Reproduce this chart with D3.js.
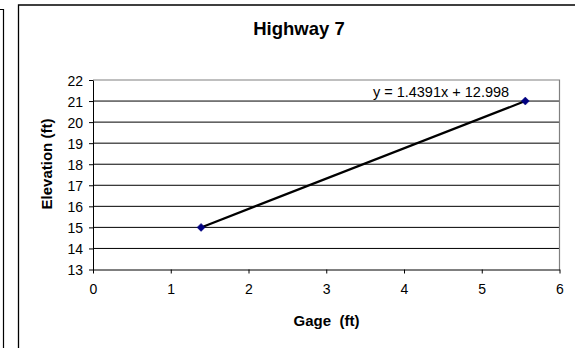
<!DOCTYPE html>
<html><head><meta charset="utf-8">
<script src="https://cdn.jsdelivr.net/npm/d3@7"></script>
<style>
html,body{margin:0;padding:0;background:#fff;}
svg{display:block;font-family:Arial,"Liberation Sans",sans-serif;}
.tick text{font-size:14px;font-family:Arial,"Liberation Sans",sans-serif;fill:#000;}
</style></head>
<body>
<svg id="c" width="575" height="348"></svg>
<script>
const gage = [1.39, 5.56];
const elevation = [15, 21];
const xTicks = [0, 1, 2, 3, 4, 5, 6];
const yTicks = [13, 14, 15, 16, 17, 18, 19, 20, 21, 22];
const slope = 1.4391, intercept = 12.998;
const title = "Highway 7";
const xLabel = "Gage  (ft)";
const yLabel = "Elevation (ft)";
const eqLabel = "y = 1.4391x + 12.998";

const svg = d3.select("#c");
const L = 93, R = 559.5, T = 80, B = 269.5;
const x = d3.scaleLinear().domain([0, 6]).range([L, R]);
const y = d3.scaleLinear().domain([13, 22]).range([B, T]);

// neighbouring chart frame fragment
svg.append("path").attr("d", "M0,9.5 H3.5 V348").attr("fill", "none").attr("stroke", "#000").attr("stroke-width", 1.2);
// chart frame
svg.append("path").attr("d", "M18.5,348 V5 H575").attr("fill", "none").attr("stroke", "#000").attr("stroke-width", 1.3);

// gridlines
svg.append("g").selectAll("line").data(yTicks.filter(d => d !== 13 && d !== 22)).join("line")
  .attr("x1", L).attr("x2", R).attr("y1", d => y(d)).attr("y2", d => y(d))
  .attr("stroke", "#000").attr("stroke-width", 1);
// plot area border (top and right)
svg.append("path").attr("d", `M${L},${T} H${R} V${B}`).attr("fill", "none").attr("stroke", "#808080").attr("stroke-width", 1.2);

// axes
const yAxis = d3.axisLeft(y).tickValues(yTicks).tickFormat(d3.format("d")).tickSize(4).tickSizeOuter(0).tickPadding(6);
const gy = svg.append("g").attr("transform", `translate(${L},0)`).call(yAxis);
const xAxis = d3.axisBottom(x).tickValues(xTicks).tickFormat(d3.format("d")).tickSize(4).tickSizeOuter(0).tickPadding(11);
const gx = svg.append("g").attr("transform", `translate(0,${B})`).call(xAxis);
[gx, gy].forEach(g => {
  g.attr("font-size", null).attr("font-family", null);
  g.select(".domain").attr("stroke", "#000");
  g.selectAll(".tick line").attr("stroke", "#000");
});
gy.selectAll(".tick text").attr("dy", "0.36em");

// trendline
const xs = d3.extent(gage);
svg.append("line")
  .attr("x1", x(xs[0])).attr("y1", y(slope * xs[0] + intercept))
  .attr("x2", x(xs[1])).attr("y2", y(slope * xs[1] + intercept))
  .attr("stroke", "#000").attr("stroke-width", 2.2);

// markers
svg.append("g").selectAll("path").data(gage.map((g, i) => [g, elevation[i]])).join("path")
  .attr("transform", d => `translate(${x(d[0])},${y(d[1])})`)
  .attr("d", "M0,-4 L4,0 L0,4 L-4,0 Z")
  .attr("fill", "#000080").attr("stroke", "#000080").attr("stroke-width", 0.5);

// texts
svg.append("text").attr("x", 299).attr("y", 35).attr("text-anchor", "middle")
  .style("font-size", "18.5px").attr("font-weight", "bold").text(title);
svg.append("text").attr("x", 326.5).attr("y", 325.5).attr("text-anchor", "middle")
  .style("font-size", "15px").attr("font-weight", "bold").style("white-space", "pre").text(xLabel);
svg.append("text").attr("transform", `translate(52,164) rotate(-90)`).attr("text-anchor", "middle")
  .style("font-size", "15px").attr("font-weight", "bold").text(yLabel);
svg.append("text").attr("x", 441).attr("y", 97).attr("text-anchor", "middle")
  .style("font-size", "14.5px").text(eqLabel);
</script>
</body></html>
